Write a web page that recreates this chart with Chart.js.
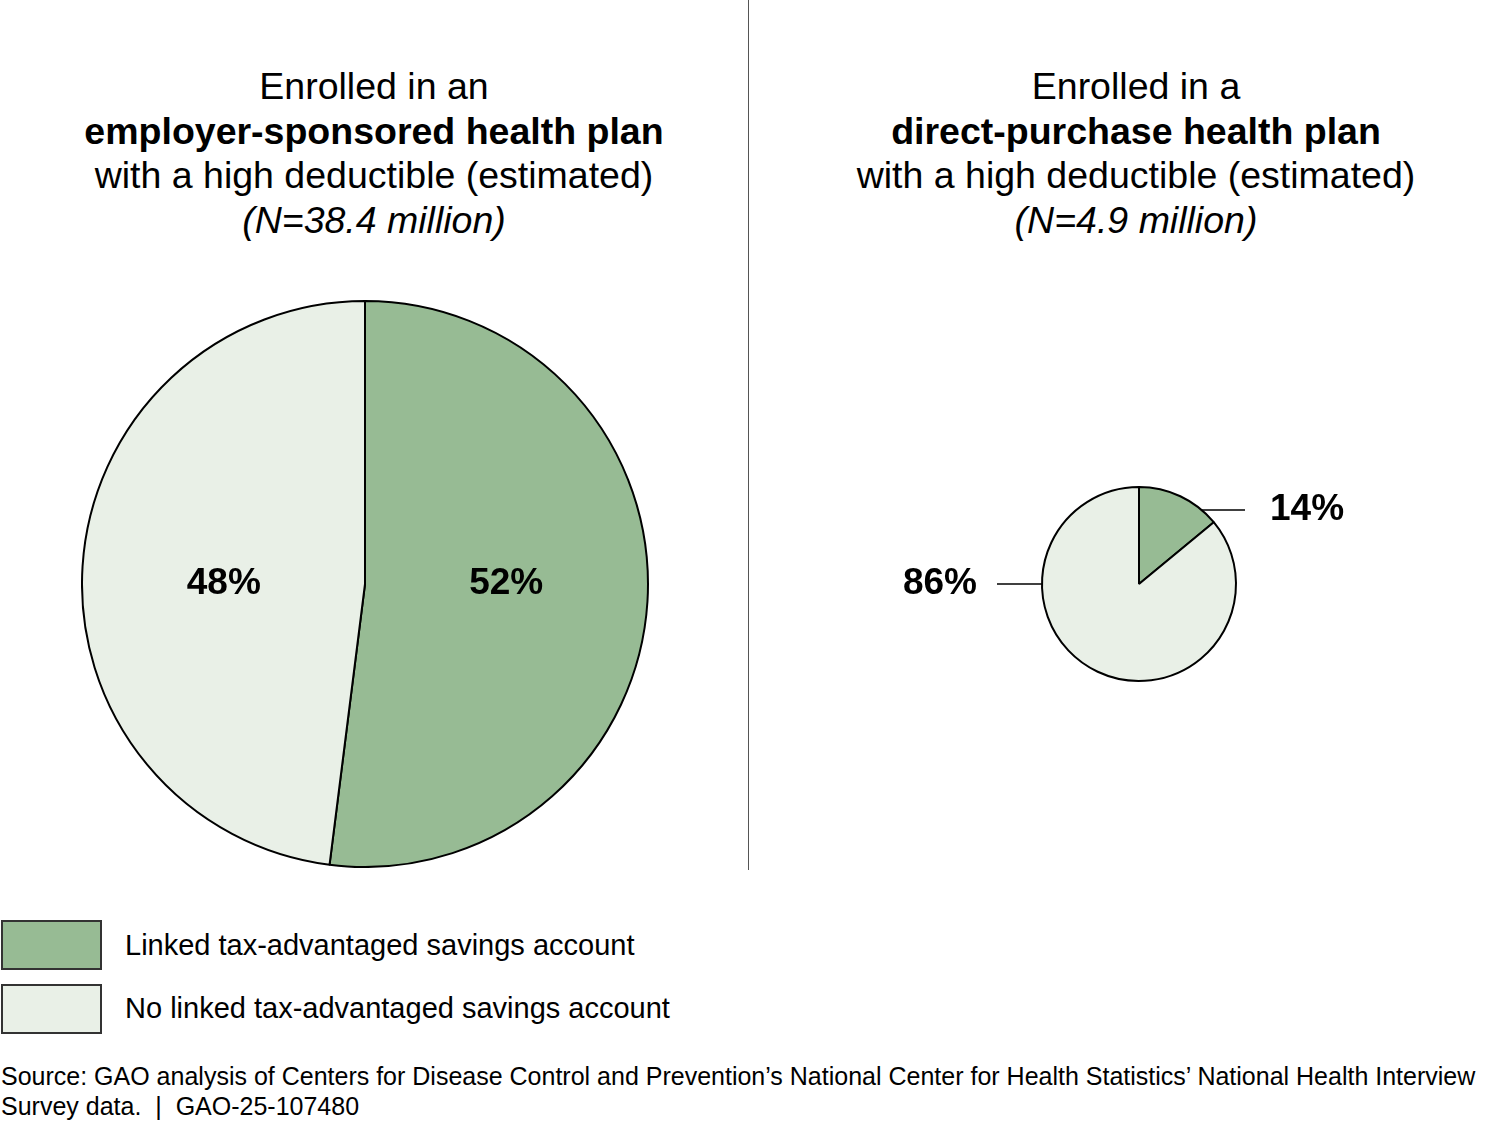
<!DOCTYPE html>
<html>
<head>
<meta charset="utf-8">
<script src="https://cdn.jsdelivr.net/npm/chart.js@4.4.1/dist/chart.umd.min.js"></script>
<style>
  body { margin: 0; background: #fff; font-family: "Liberation Sans", Arial, sans-serif; color: #000; }
  #page { position: relative; width: 1500px; height: 1122px; overflow: hidden; }
  .title { position: absolute; top: 64px; width: 740px; text-align: center; font-size: 37.5px; line-height: 44.6px; white-space: nowrap; }
  .title b { font-weight: bold; }
  #divider { position: absolute; left: 748px; top: 0; width: 1px; height: 870px; background: #555; }
  canvas { position: absolute; }
  .legend { position: absolute; left: 0; font-size: 29px; }
  .legend .box { position: absolute; left: 1px; width: 97px; height: 46px; border: 2px solid #333; }
  .legend span { position: absolute; left: 125px; white-space: nowrap; }
  #source { position: absolute; left: 1px; top: 1061px; font-size: 25px; line-height: 30px; white-space: nowrap; }
</style>
</head>
<body>
<div id="page">
  <div class="title" style="left:4px">Enrolled in an<br><b>employer-sponsored health plan</b><br>with a high deductible (estimated)<br><i>(N=38.4 million)</i></div>
  <div class="title" style="left:766px">Enrolled in a<br><b>direct-purchase health plan</b><br>with a high deductible (estimated)<br><i>(N=4.9 million)</i></div>
  <div id="divider"></div>

  <canvas id="employer" style="left:81px; top:300px; width:568px; height:568px"></canvas>
  <canvas id="direct" style="left:889px; top:434px; width:500px; height:300px"></canvas>

  <div class="legend" style="top:920px"><div class="box" id="box0"></div><span style="top:9px">Linked tax-advantaged savings account</span></div>
  <div class="legend" style="top:984px"><div class="box" id="box1"></div><span style="top:8px">No linked tax-advantaged savings account</span></div>

  <div id="source">Source: GAO analysis of Centers for Disease Control and Prevention’s National Center for Health Statistics’ National Health Interview<br>Survey data.&nbsp; |&nbsp; GAO-25-107480</div>
</div>

<script>
// categories and values (percent)
const categories = ['Linked tax-advantaged savings account', 'No linked tax-advantaged savings account'];
const employerValues = [52, 48];
const directValues = [14, 86];
const sliceColors = ['#97bb94', '#e9f0e7'];

document.getElementById('box0').style.background = sliceColors[0];
document.getElementById('box1').style.background = sliceColors[1];

// labels inside the slices, at half the radius, level with the centre
const insideLabels = {
    id: 'insideLabels',
    afterDatasetsDraw(chart) {
        const ctx = chart.ctx;
        const meta = chart.getDatasetMeta(0);
        ctx.save();
        ctx.font = 'bold 37px "Liberation Sans", Arial, sans-serif';
        ctx.fillStyle = '#000';
        ctx.textAlign = 'center';
        ctx.textBaseline = 'middle';
        meta.data.forEach((arc, i) => {
            const mid = (arc.startAngle + arc.endAngle) / 2;
            const x = arc.x + Math.cos(mid) * arc.outerRadius * 0.5;
            ctx.fillText(chart.data.datasets[0].data[i] + '%', x, arc.y);
        });
        ctx.restore();
    }
};

// labels outside the slices with short horizontal leader lines
const leaderLabels = {
    id: 'leaderLabels',
    afterDatasetsDraw(chart, args, opts) {
        const ctx = chart.ctx;
        const meta = chart.getDatasetMeta(0);
        ctx.save();
        ctx.font = 'bold 37px "Liberation Sans", Arial, sans-serif';
        ctx.fillStyle = '#000';
        ctx.strokeStyle = '#000';
        ctx.lineWidth = 1.5;
        ctx.textBaseline = 'middle';
        meta.data.forEach((arc, i) => {
            const a = arc.startAngle + (arc.endAngle - arc.startAngle) * opts.at[i];
            const px = arc.x + Math.cos(a) * arc.outerRadius;
            const py = arc.y + Math.sin(a) * arc.outerRadius;
            const right = Math.cos(a) >= 0;
            const ex = right ? arc.x + arc.outerRadius + 9 : arc.x - arc.outerRadius - 45;
            ctx.beginPath();
            ctx.moveTo(px, py);
            ctx.lineTo(ex, py);
            ctx.stroke();
            ctx.textAlign = right ? 'left' : 'right';
            ctx.fillText(chart.data.datasets[0].data[i] + '%', right ? ex + 25 : ex - 20, py);
        });
        ctx.restore();
    }
};

function pieOptions(pad, extra) {
    return {
        responsive: false,
        animation: false,
        layout: { padding: pad },
        plugins: Object.assign({ legend: { display: false }, tooltip: { enabled: false } }, extra)
    };
}

new Chart(document.getElementById('employer'), {
    type: 'pie',
    data: {
        labels: categories,
        datasets: [{ data: employerValues, backgroundColor: sliceColors, borderColor: '#000', borderWidth: 2 }]
    },
    options: pieOptions(0, {}),
    plugins: [insideLabels]
});

new Chart(document.getElementById('direct'), {
    type: 'pie',
    data: {
        labels: categories,
        datasets: [{ data: directValues, backgroundColor: sliceColors, borderColor: '#000', borderWidth: 2 }]
    },
    options: pieOptions(52, { leaderLabels: { at: [0.8, 0.7093] } }),
    plugins: [leaderLabels]
});
</script>
</body>
</html>
